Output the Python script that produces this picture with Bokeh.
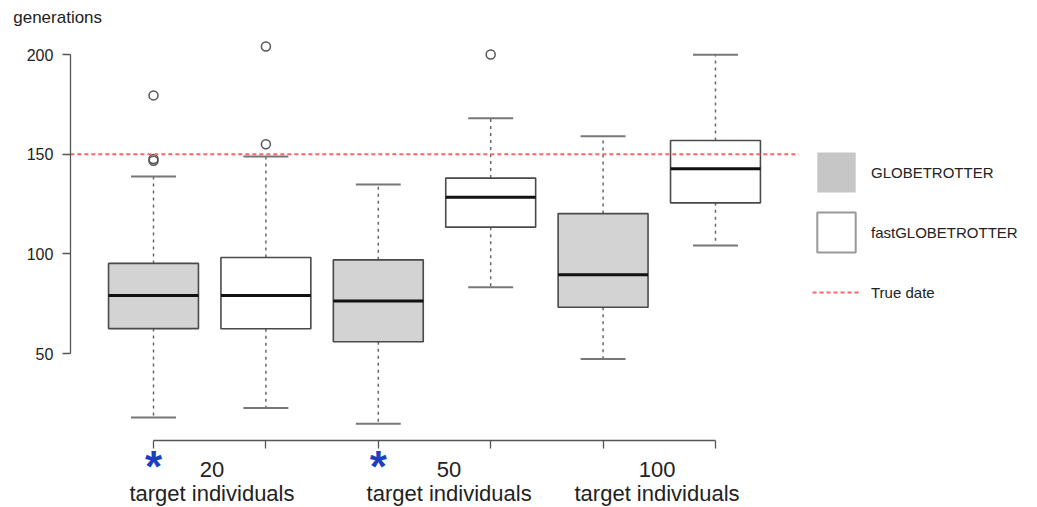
from bokeh.plotting import figure
from bokeh.models import Range1d, FixedTicker, Legend, LegendItem, Label, ColumnDataSource
from bokeh.embed import file_html
from bokeh.resources import INLINE

# ---------------- data ----------------
groups = ["20", "50", "100"]
group_caption = "target individuals"
methods = ["GLOBETROTTER", "fastGLOBETROTTER"]
# one box per (group, method), in drawing order
box_group = ["20", "20", "50", "50", "100", "100"]
box_method = ["GLOBETROTTER", "fastGLOBETROTTER"] * 3
lower_whisker = [17.9, 22.6, 14.7, 83.3, 47.3, 104.2]
q1 = [62.5, 62.4, 55.9, 113.4, 73.2, 125.6]
median = [79.1, 79.1, 76.4, 128.4, 89.5, 142.7]
q3 = [95.2, 98.2, 97.0, 138.0, 120.2, 156.9]
upper_whisker = [138.8, 148.8, 134.8, 168.1, 159.0, 199.9]
outlier_box = [0, 0, 0, 1, 1, 3]
outlier_value = [179.5, 147.6, 146.7, 204.0, 155.0, 200.0]
true_date = 150
starred_groups = ["20", "50"]
y_ticks = [50, 100, 150, 200]

# ---------------- style ----------------
FONT = "Liberation Sans"
TXT = "#222222"
fills = {"GLOBETROTTER": "#d3d3d3", "fastGLOBETROTTER": "#ffffff"}
BOXW = 0.8
NAN = float("nan")

n = len(box_group)
pos = list(range(1, n + 1))
x_lo, x_hi = 0.5 - 0.04 * n, n + 0.5 + 0.04 * n   # R plot region (x)
y_lo = 6.35                                       # R plot region bottom (y)

# the frame covers the whole canvas so that nothing is clipped
p = figure(width=1037, height=507, output_backend="svg", toolbar_location=None,
           x_range=Range1d(-0.3612, 8.865), y_range=Range1d(-27.27, 227.12),
           min_border_left=0, min_border_right=0, min_border_top=0, min_border_bottom=0)
p.outline_line_color = None
p.grid.visible = False
p.background_fill_color = "white"

src = ColumnDataSource(dict(
    x=pos,
    left=[v - BOXW / 2 for v in pos], right=[v + BOXW / 2 for v in pos],
    capl=[v - BOXW / 4 for v in pos], capr=[v + BOXW / 4 for v in pos],
    lw=lower_whisker, q1=q1, med=median, q3=q3, uw=upper_whisker,
    fill=[fills[m] for m in box_method],
))

# whiskers
p.segment(x0="x", y0="q3", x1="x", y1="uw", source=src, line_color="#666666",
          line_width=1.5, line_dash="3 4")
p.segment(x0="x", y0="q1", x1="x", y1="lw", source=src, line_color="#666666",
          line_width=1.5, line_dash="3 4")
# caps
p.segment(x0="capl", y0="uw", x1="capr", y1="uw", source=src, line_color="#777777", line_width=2)
p.segment(x0="capl", y0="lw", x1="capr", y1="lw", source=src, line_color="#777777", line_width=2)
# boxes
p.quad(left="left", right="right", bottom="q1", top="q3", source=src,
       fill_color="fill", line_color="#4a4a4a", line_width=1.6)
# medians
p.segment(x0="left", y0="med", x1="right", y1="med", source=src, line_color="#111111", line_width=3)
# outliers
p.scatter(x=[pos[i] for i in outlier_box], y=outlier_value, marker="circle", size=9,
          fill_color=None, line_color="#555555", line_width=1.5)
# true date line across the plot region
p.line(x=[x_lo, x_hi], y=[true_date, true_date], line_color="#ff6464",
       line_width=2, line_dash="4 3")

# ---------------- axes ----------------
ya = p.yaxis[0]
ya.fixed_location = x_lo
ya.ticker = FixedTicker(ticks=y_ticks)
ya.bounds = (min(y_ticks), max(y_ticks))
ya.axis_line_color = "#555555"
ya.axis_line_width = 1.3
ya.major_tick_line_color = "#555555"
ya.major_tick_line_width = 1.3
ya.major_tick_out = 8
ya.major_tick_in = 0
ya.minor_tick_line_color = None
ya.major_label_standoff = 9
ya.major_label_text_font = FONT
ya.major_label_text_font_size = "16px"
ya.major_label_text_color = TXT

xa = p.xaxis[0]
xa.fixed_location = y_lo
xa.ticker = FixedTicker(ticks=pos)
xa.bounds = (pos[0], pos[-1])
xa.axis_line_color = "#555555"
xa.axis_line_width = 1.3
xa.major_tick_line_color = "#555555"
xa.major_tick_line_width = 1.3
xa.major_tick_out = 8
xa.major_tick_in = 0
xa.minor_tick_line_color = None
xa.major_label_text_color = None

# group labels below the axis
label_x = [1.52, 3.63, 5.48]
for gx, g in zip(label_x, groups):
    p.add_layout(Label(x=gx, y=-8.2, text=g, text_align="center", text_baseline="alphabetic",
                       text_font=FONT, text_font_size="22px", text_color=TXT))
    p.add_layout(Label(x=gx, y=-20.4, text=group_caption, text_align="center",
                       text_baseline="alphabetic", text_font=FONT, text_font_size="22px",
                       text_color=TXT))
for g in starred_groups:
    i = box_group.index(g)
    p.add_layout(Label(x=pos[i], y=-6.5, text="*", text_align="center", text_baseline="alphabetic",
                       text_font=FONT, text_font_size="44px", text_font_style="bold",
                       text_color="#1b3fc0"))

p.add_layout(Label(x=-0.248, y=218.8, text="generations", text_align="left",
                   text_baseline="alphabetic", text_font=FONT, text_font_size="17px",
                   text_color=TXT))

# ---------------- legend ----------------
r_g = p.quad(left=[NAN], right=[NAN], top=[NAN], bottom=[NAN], fill_color="#c6c6c6",
             line_color=None)
r_f = p.quad(left=[NAN], right=[NAN], top=[NAN], bottom=[NAN], fill_color="#ffffff",
             line_color="#999999", line_width=2)
r_t = p.line(x=[NAN], y=[NAN], line_color="#ff6464", line_width=2, line_dash="4 3")
legend = Legend(items=[LegendItem(label=methods[0], renderers=[r_g]),
                       LegendItem(label=methods[1], renderers=[r_f]),
                       LegendItem(label="True date", renderers=[r_t])],
                location=(812, 190), glyph_width=48, glyph_height=50, spacing=10,
                padding=0, margin=0, border_line_color=None, background_fill_alpha=0,
                label_standoff=11, label_text_font=FONT, label_text_font_size="15px",
                label_text_color=TXT)
p.add_layout(legend)

open("out.html", "w").write(file_html(p, INLINE))
